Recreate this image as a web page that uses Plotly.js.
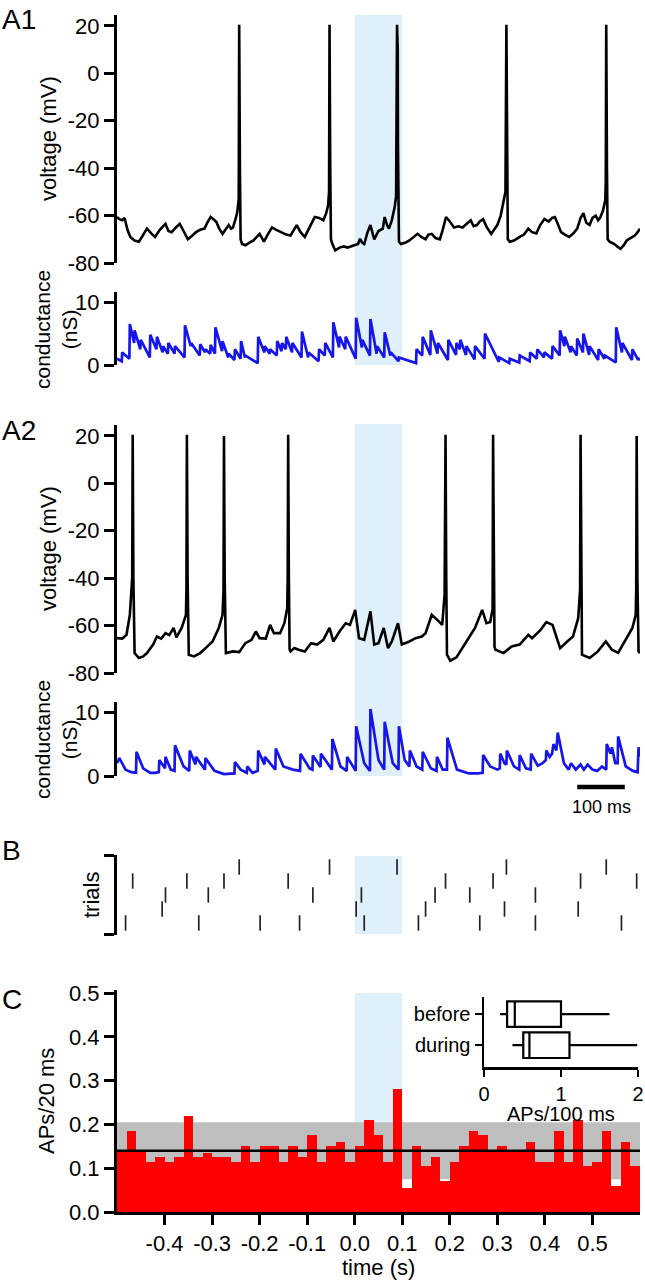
<!DOCTYPE html>
<html><head><meta charset="utf-8">
<script src="https://cdn.plot.ly/plotly-3.0.1.min.js"></script>
<style>html,body{margin:0;padding:0;background:#fff}#chart{width:645px;height:1280px}</style>
</head><body><div id="chart"></div>
<script>
// ---------------- DATA ----------------
const stimOn = 0.0, stimOff = 0.1;
const timeRange = [-0.5, 0.6];

// A1 membrane voltage [time (s), mV]
const vA1Pts = [[-0.500,-60.6],[-0.495,-61.5],[-0.489,-62],[-0.484,-61],[-0.478,-66],[-0.472,-69],[-0.463,-70.5],[-0.454,-71],[-0.446,-68.5],[-0.437,-65.5],[-0.428,-67.5],[-0.420,-69],[-0.410,-66],[-0.398,-63.5],[-0.392,-66.5],[-0.385,-67],[-0.376,-65],[-0.368,-63.5],[-0.360,-66.5],[-0.351,-70],[-0.342,-68.5],[-0.334,-67],[-0.325,-66],[-0.316,-65.5],[-0.310,-63],[-0.303,-60.6],[-0.297,-61.5],[-0.291,-62.7],[-0.285,-65.5],[-0.278,-67.7],[-0.272,-66],[-0.265,-64],[-0.260,-65.5],[-0.256,-65],[-0.250,-61],[-0.247,-58.5],[-0.244,-53],[-0.243,20.5],[-0.2415,-40],[-0.240,-70],[-0.237,-72],[-0.230,-72.5],[-0.222,-71.5],[-0.213,-70.5],[-0.206,-69],[-0.200,-67.7],[-0.195,-69.5],[-0.191,-71],[-0.183,-68],[-0.174,-65],[-0.165,-66],[-0.153,-67],[-0.144,-68],[-0.135,-68.4],[-0.128,-66],[-0.122,-64],[-0.114,-67],[-0.105,-69],[-0.095,-65],[-0.084,-60.6],[-0.075,-61],[-0.066,-62],[-0.060,-59],[-0.056,-55.7],[-0.054,-50],[-0.053,20.5],[-0.0515,-40],[-0.050,-70],[-0.047,-72],[-0.041,-74.7],[-0.032,-73.5],[-0.023,-73],[-0.015,-73.5],[-0.006,-73],[0.000,-72.5],[0.007,-72],[0.011,-69.8],[0.016,-71.5],[0.020,-72],[0.027,-67],[0.033,-64],[0.038,-68],[0.041,-70],[0.050,-66.5],[0.059,-65.5],[0.063,-60.6],[0.068,-64],[0.072,-65.5],[0.078,-62],[0.084,-56.4],[0.087,-52],[0.089,20.5],[0.0905,10],[0.091,-30],[0.093,-71],[0.097,-72],[0.106,-71.5],[0.115,-70.5],[0.124,-69],[0.132,-67.7],[0.140,-69],[0.149,-70],[0.155,-68],[0.162,-67.7],[0.170,-69.5],[0.179,-70],[0.185,-66],[0.192,-60.6],[0.200,-62.5],[0.209,-65],[0.218,-64.5],[0.227,-65],[0.235,-63.5],[0.244,-62],[0.250,-64.5],[0.257,-64],[0.263,-62.5],[0.270,-61.5],[0.278,-65],[0.287,-67.7],[0.293,-66],[0.300,-64],[0.307,-60],[0.313,-54.3],[0.317,-50],[0.319,20.5],[0.3205,-40],[0.322,-70],[0.326,-71],[0.335,-70.5],[0.347,-69],[0.356,-68],[0.365,-65.5],[0.373,-67],[0.382,-67.5],[0.390,-64],[0.399,-61.4],[0.408,-62.5],[0.415,-61],[0.421,-60.6],[0.428,-64],[0.434,-67],[0.442,-68],[0.451,-69],[0.460,-67.5],[0.468,-65.5],[0.475,-61],[0.481,-59],[0.487,-63],[0.494,-64],[0.500,-61],[0.507,-60],[0.512,-62],[0.516,-61],[0.522,-58],[0.527,-53.6],[0.528,-45],[0.529,20.5],[0.5305,-40],[0.532,-70],[0.536,-71],[0.546,-72],[0.552,-73],[0.559,-74],[0.566,-72.5],[0.572,-70.5],[0.580,-69.5],[0.589,-68.4],[0.595,-67],[0.600,-65.5]];

// A1 conductance [time (s), nS]
const gA1Pts = [[-0.500,1.0],[-0.490,0.6],[-0.489,2.0],[-0.474,1.0],[-0.473,6.5],[-0.464,3.5],[-0.463,5.5],[-0.451,2.5],[-0.450,4.0],[-0.431,1.2],[-0.430,4.8],[-0.417,2.5],[-0.416,4.5],[-0.404,2.0],[-0.403,3.0],[-0.393,1.8],[-0.392,3.5],[-0.379,1.8],[-0.378,3.0],[-0.358,1.2],[-0.357,6.3],[-0.345,3.0],[-0.344,3.5],[-0.326,1.5],[-0.325,3.3],[-0.315,2.0],[-0.314,2.5],[-0.304,1.8],[-0.303,3.2],[-0.294,1.8],[-0.293,6.0],[-0.279,2.2],[-0.278,3.8],[-0.266,1.2],[-0.265,1.8],[-0.253,0.8],[-0.252,2.5],[-0.240,1.0],[-0.239,3.8],[-0.231,1.2],[-0.230,1.5],[-0.204,0.3],[-0.203,4.5],[-0.190,2.0],[-0.189,3.0],[-0.179,1.8],[-0.178,2.5],[-0.164,1.5],[-0.163,3.8],[-0.154,2.2],[-0.153,3.5],[-0.145,2.5],[-0.144,4.5],[-0.132,2.0],[-0.131,3.5],[-0.112,1.2],[-0.111,5.3],[-0.098,1.2],[-0.097,2.0],[-0.076,0.6],[-0.075,2.5],[-0.063,1.5],[-0.062,3.5],[-0.046,1.2],[-0.045,6.8],[-0.033,2.8],[-0.032,4.5],[-0.020,2.5],[-0.019,4.5],[0.002,1.0],[0.003,7.5],[0.015,2.8],[0.016,4.0],[0.032,1.5],[0.033,7.3],[0.046,1.8],[0.047,3.0],[0.062,1.2],[0.063,5.2],[0.075,1.5],[0.076,2.0],[0.092,0.6],[0.093,1.2],[0.129,0.3],[0.130,2.5],[0.142,1.5],[0.143,4.5],[0.159,1.6],[0.160,5.5],[0.174,1.8],[0.175,3.5],[0.196,0.8],[0.197,4.0],[0.213,1.6],[0.214,3.5],[0.221,2.5],[0.222,4.0],[0.234,1.6],[0.235,3.0],[0.252,0.9],[0.253,3.0],[0.273,1.0],[0.274,5.0],[0.303,0.5],[0.304,1.2],[0.325,0.3],[0.326,1.0],[0.346,0.4],[0.347,1.5],[0.368,0.6],[0.369,2.0],[0.383,1.0],[0.384,2.5],[0.398,1.2],[0.399,2.0],[0.415,1.0],[0.416,3.0],[0.431,1.5],[0.432,5.5],[0.441,3.0],[0.442,4.5],[0.454,2.0],[0.455,3.0],[0.467,1.5],[0.468,4.2],[0.480,2.0],[0.481,5.0],[0.493,1.6],[0.494,3.0],[0.512,0.8],[0.513,2.5],[0.525,1.0],[0.526,1.5],[0.549,0.4],[0.550,6.0],[0.562,2.0],[0.563,3.5],[0.583,0.8],[0.584,2.5],[0.596,0.8],[0.597,1.0],[0.600,0.8]];

// A2 membrane voltage [time (s), mV]
const vA2Pts = [[-0.500,-65.3],[-0.489,-65.5],[-0.480,-63.9],[-0.473,-55.5],[-0.468,-40],[-0.467,20.5],[-0.4655,-40],[-0.464,-70],[-0.463,-71.6],[-0.454,-73.7],[-0.445,-73],[-0.437,-71.6],[-0.424,-68],[-0.416,-64.6],[-0.407,-65.5],[-0.398,-63.2],[-0.390,-64],[-0.381,-61],[-0.375,-65],[-0.364,-61],[-0.355,-55.5],[-0.354,-45],[-0.353,20.5],[-0.3515,-40],[-0.350,-70],[-0.349,-72.3],[-0.338,-73],[-0.325,-71.6],[-0.312,-69.2],[-0.299,-66.7],[-0.286,-61],[-0.278,-55.5],[-0.276,-45],[-0.275,20],[-0.2735,-40],[-0.272,-70],[-0.271,-71.6],[-0.256,-70.9],[-0.243,-71.2],[-0.230,-67.4],[-0.217,-66],[-0.208,-62.5],[-0.200,-65.3],[-0.187,-65.5],[-0.178,-59.7],[-0.170,-63.2],[-0.157,-63.2],[-0.148,-59],[-0.142,-52.7],[-0.141,-40],[-0.140,20.5],[-0.1385,-40],[-0.137,-70],[-0.135,-70.9],[-0.127,-69.5],[-0.118,-70.2],[-0.105,-70.9],[-0.092,-67.4],[-0.079,-68],[-0.066,-66],[-0.053,-61],[-0.045,-66.7],[-0.032,-62.5],[-0.019,-59],[-0.010,-59.7],[0.001,-53.4],[0.009,-65.3],[0.020,-66],[0.033,-54],[0.041,-68],[0.050,-67.4],[0.061,-61],[0.070,-69.5],[0.078,-66.7],[0.091,-59],[0.099,-68],[0.115,-66.7],[0.128,-65.3],[0.141,-64.6],[0.149,-63.2],[0.162,-55.5],[0.173,-57.5],[0.184,-59.7],[0.189,-47],[0.191,20.5],[0.1925,-40],[0.194,-72.3],[0.201,-74.8],[0.214,-73.4],[0.231,-68],[0.253,-61],[0.268,-53.4],[0.277,-59],[0.285,-58.5],[0.290,-53],[0.291,20.5],[0.2925,-40],[0.294,-69],[0.296,-70.2],[0.313,-71.6],[0.330,-68.8],[0.347,-68],[0.365,-63.9],[0.373,-65.3],[0.391,-61.8],[0.403,-58.5],[0.416,-59.7],[0.432,-69.5],[0.447,-66.7],[0.459,-64.6],[0.470,-56.9],[0.474,-45],[0.475,20.5],[0.4765,-40],[0.478,-72.3],[0.494,-73.7],[0.511,-71],[0.528,-66.7],[0.541,-70.2],[0.554,-71.5],[0.567,-66.7],[0.584,-61],[0.591,-55.5],[0.592,-45],[0.593,20],[0.5945,-40],[0.597,-70.9],[0.600,-71.6]];

// A2 conductance [time (s), nS]
const gA2Pts = [[-0.500,2.0],[-0.495,2.8],[-0.482,1.0],[-0.470,0.6],[-0.460,0.5],[-0.459,3.8],[-0.445,1.2],[-0.430,0.5],[-0.420,0.5],[-0.412,0.6],[-0.411,2.5],[-0.399,1.2],[-0.398,3.0],[-0.387,1.0],[-0.379,0.8],[-0.378,4.8],[-0.360,1.5],[-0.348,0.8],[-0.347,4.0],[-0.335,1.8],[-0.334,3.0],[-0.315,1.0],[-0.314,2.8],[-0.295,0.8],[-0.275,0.3],[-0.253,0.4],[-0.252,2.2],[-0.240,1.0],[-0.227,0.5],[-0.226,1.5],[-0.215,0.5],[-0.204,0.8],[-0.203,4.0],[-0.190,1.8],[-0.189,3.0],[-0.167,1.0],[-0.166,4.3],[-0.150,1.5],[-0.130,1.0],[-0.115,0.8],[-0.114,3.5],[-0.095,1.2],[-0.089,1.0],[-0.088,3.2],[-0.072,1.4],[-0.071,3.5],[-0.048,1.0],[-0.047,5.8],[-0.030,1.5],[-0.017,0.8],[-0.016,3.0],[0.002,0.8],[0.003,7.8],[0.020,2.0],[0.032,0.8],[0.033,10.5],[0.050,2.5],[0.062,1.0],[0.063,8.5],[0.080,2.0],[0.092,1.0],[0.093,7.8],[0.105,2.5],[0.115,1.5],[0.116,4.0],[0.130,1.5],[0.142,1.0],[0.143,3.8],[0.160,1.2],[0.172,0.8],[0.173,3.0],[0.185,1.0],[0.194,1.0],[0.195,6.0],[0.215,1.0],[0.240,0.4],[0.260,0.4],[0.269,0.5],[0.270,3.3],[0.285,1.5],[0.300,1.0],[0.305,1.2],[0.306,3.5],[0.315,2.0],[0.319,1.8],[0.320,4.0],[0.335,1.5],[0.346,1.0],[0.347,3.3],[0.360,1.2],[0.370,1.0],[0.371,3.5],[0.385,1.6],[0.395,2.0],[0.402,2.5],[0.403,4.0],[0.410,3.0],[0.415,3.5],[0.418,5.0],[0.424,4.0],[0.427,6.8],[0.440,2.0],[0.450,1.0],[0.455,2.0],[0.465,1.0],[0.475,1.8],[0.482,1.0],[0.490,1.8],[0.500,1.0],[0.510,0.8],[0.520,1.5],[0.529,1.0],[0.530,5.0],[0.538,3.5],[0.541,4.5],[0.548,2.0],[0.553,2.0],[0.554,6.2],[0.570,1.5],[0.585,0.8],[0.595,0.6],[0.597,4.5],[0.600,3.0]];

// B raster: spike times (s) per trial
const trial1 = [-0.243,-0.053,0.089,0.319,0.529];
const trial2 = [-0.467,-0.353,-0.275,-0.140,0.191,0.291,0.475,0.593];
const trial3 = [-0.398,-0.308,-0.088,0.014,0.169,0.242,0.380];
const trial4 = [-0.405,0.003,0.149,0.315,0.470];
const trial5 = [-0.482,-0.328,-0.199,-0.116,0.020,0.134,0.263,0.380,0.561];
const trials = [trial1, trial2, trial3, trial4, trial5];

// C PSTH: APs per 20 ms bin, bins from -0.5 s to 0.6 s
const binStart = -0.5, binWidth = 0.02;
const psth = [0.14,0.185,0.14,0.115,0.125,0.115,0.125,0.22,0.125,0.135,0.125,0.125,0.115,0.15,0.115,0.15,0.15,0.115,0.15,0.125,0.175,0.115,0.15,0.16,0.115,0.15,0.21,0.175,0.115,0.28,0.055,0.15,0.105,0.125,0.07,0.115,0.15,0.185,0.175,0.14,0.15,0.14,0.14,0.16,0.115,0.115,0.185,0.115,0.21,0.105,0.115,0.185,0.06,0.16,0.105];
const baseMean = 0.14, baseLow = 0.075, baseHigh = 0.205;

// C inset box plot (APs/100 ms)
const boxCats = ['before','during'];
const boxLow  = [0.21, 0.37];
const boxQ1   = [0.30, 0.51];
const boxMed  = [0.40, 0.59];
const boxQ3   = [1.00, 1.11];
const boxHigh = [1.63, 1.99];

// tick labels
const voltTicks = [-80,-60,-40,-20,0,20];
const voltLabels = ['-80','-60','-40','-20','0','20'];
const condTicks = [0,10];
const condLabels = ['0','10'];
const timeTicks = [-0.4,-0.3,-0.2,-0.1,0.0,0.1,0.2,0.3,0.4,0.5];
const timeLabels = ['-0.4','-0.3','-0.2','-0.1','0.0','0.1','0.2','0.3','0.4','0.5'];
const rateTicks = [0,0.1,0.2,0.3,0.4,0.5];
const rateLabels = ['0.0','0.1','0.2','0.3','0.4','0.5'];
const insetTicks = [0,1,2];
const insetLabels = ['0','1','2'];
const scaleBarStart = 0.468, scaleBarLen = 0.1;

// ---------------- PLOT ----------------
const W = 645, H = 1280;
const px = v => v / W;
const py = v => 1 - v / H;
const FONT = 'Liberation Sans, Arial, Helvetica, sans-serif';
const xDom = [px(117), px(640)];
const BLUE = 'rgb(22,22,235)';
const STIM = 'rgb(224,240,250)';

const col = (pts, i) => pts.map(p => p[i]);

const traces = [
  {x: col(vA1Pts,0), y: col(vA1Pts,1), xaxis:'x', yaxis:'y', type:'scatter', mode:'lines', line:{color:'black', width:2.6}, hoverinfo:'skip'},
  {x: col(gA1Pts,0), y: col(gA1Pts,1), xaxis:'x2', yaxis:'y2', type:'scatter', mode:'lines', line:{color:BLUE, width:2.7}, hoverinfo:'skip'},
  {x: col(vA2Pts,0), y: col(vA2Pts,1), xaxis:'x3', yaxis:'y3', type:'scatter', mode:'lines', line:{color:'black', width:2.6}, hoverinfo:'skip'},
  {x: col(gA2Pts,0), y: col(gA2Pts,1), xaxis:'x4', yaxis:'y4', type:'scatter', mode:'lines', line:{color:BLUE, width:2.7}, hoverinfo:'skip'}
];
trials.forEach((tr, i) => {
  traces.push({x: tr, y: tr.map(() => i + 1), xaxis:'x5', yaxis:'y5', type:'scatter', mode:'markers',
    marker:{symbol:'line-ns-open', size:11, color:'#222', line:{color:'#222', width:1.7}}, hoverinfo:'skip'});
});
traces.push({type:'bar', x0: binStart + binWidth/2, dx: binWidth, y: psth, xaxis:'x6', yaxis:'y6',
  marker:{color:'rgb(255,0,0)', line:{width:0}}, width: binWidth, hoverinfo:'skip'});
traces.push({x: timeRange, y:[baseMean, baseMean], xaxis:'x6', yaxis:'y6', type:'scatter', mode:'lines',
  line:{color:'black', width:2.6}, hoverinfo:'skip'});
traces.push({type:'box', orientation:'h', y: boxCats, q1: boxQ1, median: boxMed, q3: boxQ3,
  lowerfence: boxLow, upperfence: boxHigh, xaxis:'x7', yaxis:'y7', fillcolor:'white',
  line:{color:'black', width:2.2}, whiskerwidth:0, width:0.82, boxpoints:false, hoverinfo:'skip'});

const tickFont = {size:22, color:'black', family:FONT};
const insetFont = {size:20, color:'black', family:FONT};
const yStyle = (dom, range, tv, tt) => ({domain: dom, range: range, tickvals: tv, ticktext: tt,
  showline:true, linewidth:3, linecolor:'black', ticks:'outside', ticklen:10, tickwidth:3, tickcolor:'black',
  showgrid:false, zeroline:false, tickfont: tickFont, fixedrange:true});
const hidX = (anchor) => ({domain: xDom, range: timeRange, anchor: anchor, visible:false, fixedrange:true});

const ann = (text, x, y, opts) => Object.assign({text: text, x: px(x), y: py(y), xref:'paper', yref:'paper',
  xanchor:'center', yanchor:'middle', showarrow:false, font:{size:22, family:FONT, color:'black'}}, opts || {});
const panelFont = {size:28, family:FONT, color:'black'};

const layout = {
  width: W, height: H, margin:{l:0, r:0, t:0, b:0},
  paper_bgcolor:'white', plot_bgcolor:'rgba(0,0,0,0)',
  showlegend:false, bargap:0, boxmode:'overlay',
  font:{family:FONT, color:'black', size:22},
  xaxis: hidX('y'),
  yaxis: Object.assign(yStyle([py(263), py(15)], [-80, 24.6], voltTicks, voltLabels), {anchor:'x'}),
  xaxis2: hidX('y2'),
  yaxis2: Object.assign(yStyle([py(365), py(292)], [0, 11.6], condTicks, condLabels), {anchor:'x2'}),
  xaxis3: hidX('y3'),
  yaxis3: Object.assign(yStyle([py(673), py(425)], [-80, 24.6], voltTicks, voltLabels), {anchor:'x3'}),
  xaxis4: hidX('y4'),
  yaxis4: Object.assign(yStyle([py(776), py(702)], [0, 11.6], condTicks, condLabels), {anchor:'x4'}),
  xaxis5: hidX('y5'),
  yaxis5: Object.assign(yStyle([py(935), py(855)], [5.86, 0.14], [0.16, 5.84], ['','']), {anchor:'x5', showticklabels:false}),
  xaxis6: {domain: xDom, range: timeRange, anchor:'y6', tickvals: timeTicks, ticktext: timeLabels,
    showline:true, linewidth:3, linecolor:'black', ticks:'outside', ticklen:10, tickwidth:3, tickcolor:'black',
    showgrid:false, zeroline:false, tickfont: tickFont, fixedrange:true},
  yaxis6: Object.assign(yStyle([py(1212), py(990)], [0, 0.507], rateTicks, rateLabels), {anchor:'x6'}),
  xaxis7: {domain:[px(484), px(638)], range:[0, 2], anchor:'y7', tickvals: insetTicks, ticktext: insetLabels,
    showline:true, linewidth:2.5, linecolor:'black', ticks:'outside', ticklen:7, tickwidth:2.5, tickcolor:'black',
    showgrid:false, zeroline:false, tickfont: insetFont, fixedrange:true},
  yaxis7: {domain:[py(1067), py(997)], type:'category', categoryorder:'array', categoryarray: boxCats,
    range:[1.7, -0.55], anchor:'x7', showline:true, linewidth:2.5, linecolor:'black', ticks:'outside',
    ticklen:7, tickwidth:2.5, tickcolor:'black', showgrid:false, zeroline:false, tickfont: insetFont, fixedrange:true},
  shapes: [
    {type:'rect', xref:'x', yref:'paper', x0:stimOn, x1:stimOff, y0:py(365), y1:py(15), fillcolor:STIM, line:{width:0}, layer:'below'},
    {type:'rect', xref:'x3', yref:'paper', x0:stimOn, x1:stimOff, y0:py(776), y1:py(424), fillcolor:STIM, line:{width:0}, layer:'below'},
    {type:'rect', xref:'x5', yref:'paper', x0:stimOn, x1:stimOff, y0:py(934), y1:py(856), fillcolor:STIM, line:{width:0}, layer:'below'},
    {type:'rect', xref:'x6', yref:'paper', x0:stimOn, x1:stimOff, y0:py(1212), y1:py(993), fillcolor:STIM, line:{width:0}, layer:'below'},
    {type:'rect', xref:'x6', yref:'y6', x0:timeRange[0], x1:timeRange[1], y0:baseLow, y1:baseHigh, fillcolor:'rgb(190,190,190)', line:{width:0}, layer:'below'},
    {type:'line', xref:'x4', yref:'paper', x0:scaleBarStart, x1:scaleBarStart + scaleBarLen, y0:py(787), y1:py(787), line:{color:'black', width:4.5}}
  ],
  annotations: [
    ann('A1', 0, 19, {xanchor:'left', font: panelFont}),
    ann('A2', 0, 431, {xanchor:'left', font: panelFont}),
    ann('B', 0, 850, {xanchor:'left', font: panelFont}),
    ann('C', 0, 999, {xanchor:'left', font: panelFont}),
    ann('voltage (mV)', 48, 139, {textangle:-90}),
    ann('voltage (mV)', 48, 549, {textangle:-90}),
    ann('conductance<br>(nS)', 56, 330, {textangle:-90, font:{size:21, family:FONT, color:'black'}}),
    ann('conductance<br>(nS)', 56, 740, {textangle:-90, font:{size:21, family:FONT, color:'black'}}),
    ann('trials', 91, 895, {textangle:-90}),
    ann('APs/20 ms', 46, 1101, {textangle:-90}),
    ann('time (s)', 378, 1267),
    ann('APs/100 ms', 561, 1114, {font: insetFont}),
    {text:'100 ms', x: scaleBarStart + scaleBarLen/2, y:py(807), xref:'x4', yref:'paper', xanchor:'center', yanchor:'middle',
      showarrow:false, font:{size:18, family:FONT, color:'black'}}
  ]
};

Plotly.newPlot('chart', traces, layout, {staticPlot:true, displayModeBar:false});
</script></body></html>
